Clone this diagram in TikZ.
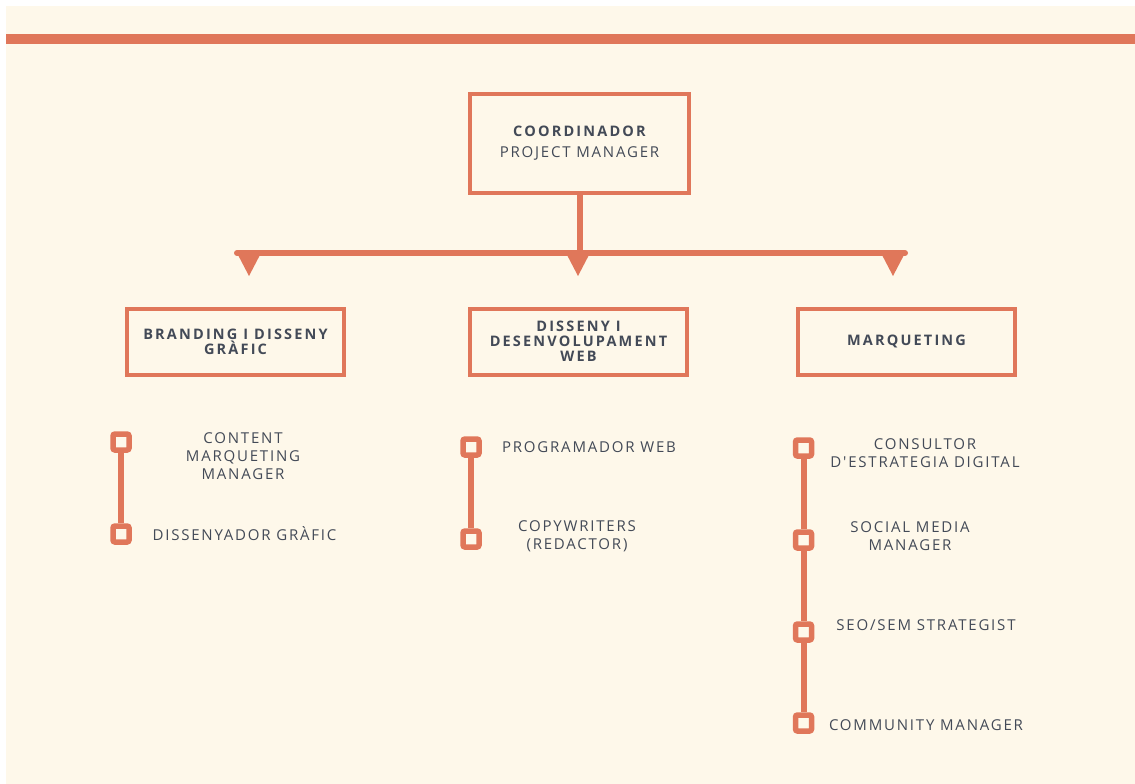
\documentclass[tikz,border=0pt]{standalone}
\usepackage{fontspec}
\setmainfont{Open Sans}
\newfontfamily\chartfont[LetterSpace=15]{Open Sans}
\newfontfamily\rolefont[LetterSpace=12]{Open Sans}
\definecolor{cream}{HTML}{FEF8EA}
\definecolor{accent}{HTML}{E0775A}
\definecolor{ink}{HTML}{434A57}

\begin{document}
\begin{tikzpicture}[
  x=1pt, y=-1pt,
  unit/.style={draw=accent, line width=4pt, fill=cream, minimum width=217pt, minimum height=66pt,
    inner sep=2pt, align=center, text=ink, font=\chartfont\bfseries\fontsize{14.5}{15}\selectfont},
  link/.style={draw=accent, line width=6pt},
  marker/.style={rectangle, draw=accent, fill=cream, line width=5.5pt, rounded corners=2pt,
    minimum size=16pt, inner sep=0pt},
  role/.style={align=center, text=ink, font=\rolefont\fontsize{15}{18}\selectfont}
]

% Page background and top band
\useasboundingbox (0,0) rectangle (1135,784);
\fill[cream] (6,6) rectangle (1135,784);
\fill[accent] (6,34) rectangle (1135,44);

% Head of the chart
\node[unit, minimum width=219pt, minimum height=99pt, font=\rolefont\fontsize{15}{21}\selectfont] (coord) at (579.5,143.5)
  {{\chartfont\bfseries\fontsize{14.5}{21}\selectfont COORDINADOR}\\PROJECT MANAGER};

% Departments
\node[unit] (brand) at (235.5,341.5) {BRANDING I DISSENY\\GRÀFIC};
\node[unit] (web)   at (578.5,341.5) {DISSENY I\\DESENVOLUPAMENT\\WEB};
\node[unit] (mkt)   at (906.5,341.5) {MARQUETING};

% Branch bar with pointers
\coordinate (barL) at (237,253);
\coordinate (barR) at (905,253);
\draw[link, line cap=round] (barL) -- (barR);
\draw[link] (coord.south) -- (coord.south |- barL);
\foreach \x in {249,578,893}
  \fill[accent] (\x,253) ++(-12,0) -- ++(24,0) -- ++(-12,23) -- cycle;

% Branding roles
\node[marker] (b1) at (121,442) {};
\node[marker] (b2) at (121,534) {};
\draw[link] (b1) -- (b2);
\node[role] (b1t) at (243,456) {CONTENT\\MARQUETING\\MANAGER};
\node[role] (b2t) at (244.5,534) {DISSENYADOR GRÀFIC};

% Web roles
\node[marker] (w1) at (471,447) {};
\node[marker] (w2) at (471,539) {};
\draw[link] (w1) -- (w2);
\node[role] (w1t) at (589,447) {PROGRAMADOR WEB};
\node[role] (w2t) at (577,536) {COPYWRITERS\\(REDACTOR)};

% Marketing roles
\node[marker] (m1) at (803.5,448) {};
\node[marker] (m2) at (803.5,540) {};
\node[marker] (m3) at (803.5,632) {};
\node[marker] (m4) at (803.5,723) {};
\draw[link] (m1) -- (m2);
\draw[link] (m2) -- (m3);
\draw[link] (m3) -- (m4);
\node[role] (m1t) at (925,453) {CONSULTOR\\D'ESTRATEGIA DIGITAL};
\node[role] (m2t) at (910,536.5) {SOCIAL MEDIA\\MANAGER};
\node[role] (m3t) at (926,625) {SEO/SEM STRATEGIST};
\node[role] (m4t) at (926,725) {COMMUNITY MANAGER};

\end{tikzpicture}
\end{document}
